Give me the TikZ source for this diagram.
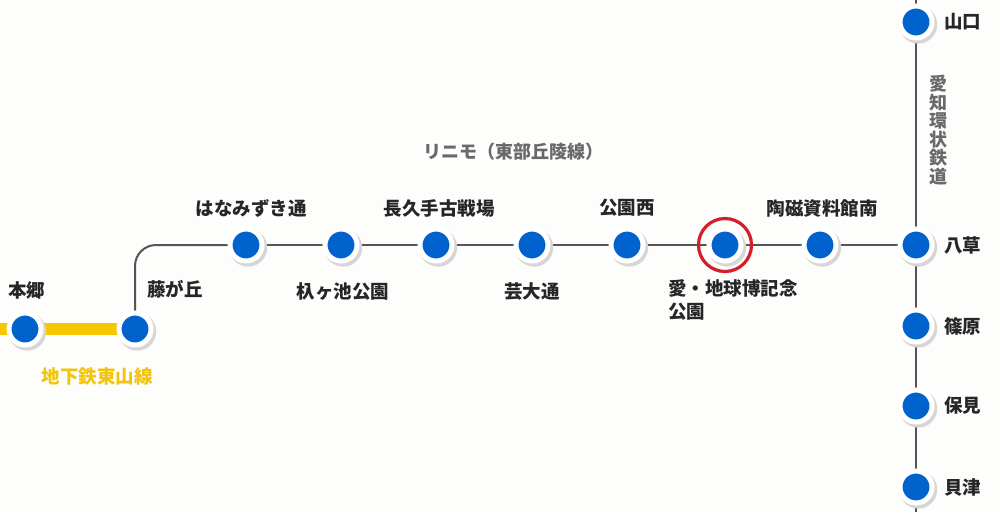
\documentclass[tikz,border=0pt]{standalone}
\usepackage{fontspec}
\setmainfont{Noto Sans CJK JP}[BoldFont={Noto Sans CJK JP Black}]
\usetikzlibrary{backgrounds}
\definecolor{stblue}{RGB}{0,98,204}
\definecolor{lineg}{RGB}{85,85,85}
\definecolor{yel}{RGB}{245,200,0}
\definecolor{yeltxt}{RGB}{242,196,12}
\definecolor{lbl}{RGB}{105,105,105}
\definecolor{redc}{RGB}{214,30,40}
\definecolor{bgc}{RGB}{253,253,251}
\tikzset{
  stn/.style={circle, inner sep=0pt, minimum size=32pt, fill=stblue, draw=white, line width=5pt,
    preaction={draw=black!16, fill=black!16, line width=6pt, transform canvas={shift={(2.2pt,-2.6pt)}}}},
  stlabel/.style={font=\fontsize{18.5}{23}\selectfont\bfseries, text=black!85, inner sep=0pt},
  rail/.style={draw=lineg, line width=2pt},
  linelbl/.style={font=\fontsize{18}{18.5}\selectfont\bfseries, text=lbl, inner sep=0pt}
}
\begin{document}
\begin{tikzpicture}[x=1pt,y=-1pt]
\useasboundingbox (0,0) rectangle (1000,512);
% stations
\node[stn] (hongo) at (25,329) {};
\node[stn] (fujigaoka) at (135,329) {};
\node[stn] (hanamizuki) at (246,245) {};
\node[stn] (irigaike) at (341,245) {};
\node[stn] (nagakute) at (436,245) {};
\node[stn] (geidai) at (532,245) {};
\node[stn] (koenNishi) at (627,245) {};
\node[stn] (expo) at (725,245) {};
\node[stn] (toji) at (820,245) {};
\node[stn] (yakusa) at (916,245) {};
\node[stn] (yamaguchi) at (916,22) {};
\node[stn] (shinohara) at (916,326) {};
\node[stn] (homi) at (916,406) {};
\node[stn] (kaizu) at (916,487) {};
\coordinate (topend) at (916,0);
\coordinate (botend) at (916,512);
\coordinate (leftend) at (0,329);
\coordinate (bend) at (135,245);
% lines
\begin{pgfonlayer}{background}
\fill[bgc] (0,0) rectangle (1000,512);
\draw[yel, line width=12pt] (leftend) -- (fujigaoka.center);
\draw[rail, rounded corners=21pt] (fujigaoka.center) -- (bend) -- (hanamizuki.center);
\draw[rail] (hanamizuki.center) -- (irigaike.center) -- (nagakute.center) -- (geidai.center)
  -- (koenNishi.center) -- (expo.center) -- (toji.center) -- (yakusa.center);
\draw[rail] (topend) -- (yamaguchi.center) -- (yakusa.center) -- (shinohara.center)
  -- (homi.center) -- (kaizu.center) -- (botend);
\end{pgfonlayer}
% highlight
\draw[redc, line width=3.2pt] (expo.center) circle (26.5pt);
% labels
\node[stlabel] at (27,290) {本郷};
\node[stlabel] at (175,289) {藤が丘};
\node[stlabel] at (251,208) {はなみずき通};
\node[stlabel] at (343,292) {杁ヶ池公園};
\node[stlabel] at (439,208) {長久手古戦場};
\node[stlabel] at (532,292) {芸大通};
\node[stlabel] at (627,208) {公園西};
\node[stlabel, anchor=north west, align=left] at (668,279) {愛・地球博記念\\公園};
\node[stlabel] at (822,208) {陶磁資料館南};
\node[stlabel, anchor=west] at (944,245) {八草};
\node[stlabel, anchor=west] at (944,22) {山口};
\node[stlabel, anchor=west] at (944,326) {篠原};
\node[stlabel, anchor=west] at (944,406) {保見};
\node[stlabel, anchor=west] at (944,487) {貝津};
\node[linelbl] at (513,152) {リニモ（東部丘陵線）};
\node[linelbl, align=center] at (938,130) {愛\\知\\環\\状\\鉄\\道};
\node[stlabel, text=yeltxt] at (97,376) {地下鉄東山線};
\end{tikzpicture}
\end{document}
